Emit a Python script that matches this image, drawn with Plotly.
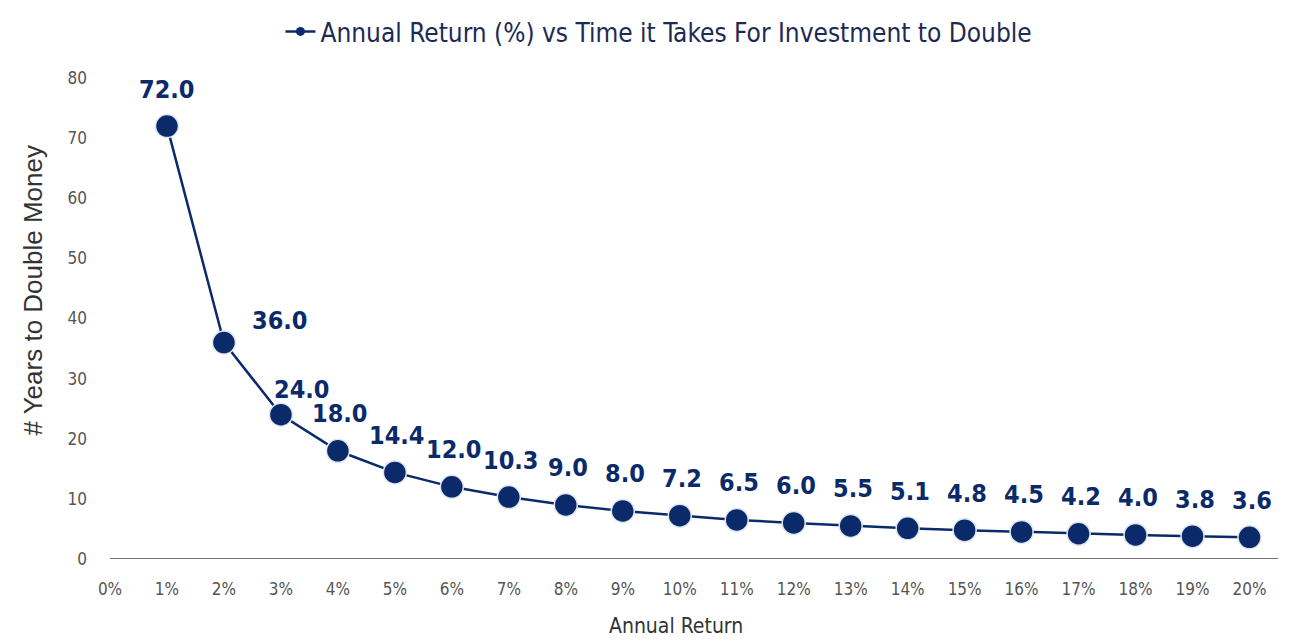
import plotly.graph_objects as go

# Data
returns = list(range(1, 21))  # annual return in %
years = [72.0, 36.0, 24.0, 18.0, 14.4, 12.0, 10.3, 9.0, 8.0, 7.2,
         6.5, 6.0, 5.5, 5.1, 4.8, 4.5, 4.2, 4.0, 3.8, 3.6]
tick_vals = list(range(0, 21))
tick_labels = [f"{v}%" for v in tick_vals]
y_ticks = [0, 10, 20, 30, 40, 50, 60, 70, 80]
series_name = "Annual Return (%) vs Time it Takes For Investment to Double"
x_title = "Annual Return"
y_title = "# Years to Double Money"

NAVY = "#0b2a6a"
NARROW = "DejaVu Sans Condensed, Liberation Sans Narrow, Arial Narrow, sans-serif"

fig = go.Figure()
fig.add_trace(go.Scatter(
    x=returns, y=years, mode="lines+markers", showlegend=False,
    name=series_name,
    line=dict(color=NAVY, width=2.5),
    marker=dict(color=NAVY, size=23, line=dict(color="#dfe6f3", width=1.5)),
    cliponaxis=False,
))
# legend entry with a small marker, as in the reference
fig.add_trace(go.Scatter(
    x=[None], y=[None], mode="lines+markers", name=series_name,
    line=dict(color=NAVY, width=2.5),
    marker=dict(color=NAVY, size=9),
))

# label offsets (pixels) for data labels
label_dx = [0, 56, 21] + [2] * 17
label_dy = [37, 22, 25] + [37] * 17
for x, y, dx, dy in zip(returns, years, label_dx, label_dy):
    fig.add_annotation(x=x, y=y, text=f"<b>{y:.1f}</b>", showarrow=False,
                       xshift=dx, yshift=dy,
                       font=dict(family=NARROW, size=25, color=NAVY))

# axis titles placed as in the reference
fig.add_annotation(xref="paper", yref="paper", x=0.485, y=-0.14, yanchor="middle",
                   text=x_title, showarrow=False,
                   font=dict(family=NARROW, size=21, color="#333333"))
fig.add_annotation(xref="paper", yref="paper", x=-0.066, y=0.56, xanchor="center",
                   yanchor="middle", textangle=-90, text=y_title, showarrow=False,
                   font=dict(family="Liberation Sans, Arial, sans-serif", size=26, color="#333333"))

fig.update_layout(
    width=1306, height=635,
    paper_bgcolor="white", plot_bgcolor="white",
    margin=dict(l=102, r=36, t=70, b=84),
    showlegend=True,
    legend=dict(orientation="h", x=0.47, xanchor="center", y=1.0, yanchor="top",
                yref="container", font=dict(family=NARROW, size=26, color="#1c2a55"),
                itemwidth=30),
    xaxis=dict(range=[0, 20.5], tickvals=tick_vals, ticktext=tick_labels,
               showgrid=False, zeroline=False, showline=False, ticks="",
               automargin=False, ticklabelstandoff=18,
               tickfont=dict(family=NARROW, size=17, color="#555555")),
    yaxis=dict(range=[0, 80], tickvals=y_ticks, showgrid=False, zeroline=False,
               showline=False, ticks="", automargin=False, ticklabelstandoff=22,
               tickfont=dict(family=NARROW, size=17, color="#555555")),
)
# horizontal baseline at y=0
fig.add_shape(type="line", xref="paper", yref="y", x0=0, x1=1, y0=0, y1=0,
              line=dict(color="#444444", width=1.5))

fig.write_html("out.html")
